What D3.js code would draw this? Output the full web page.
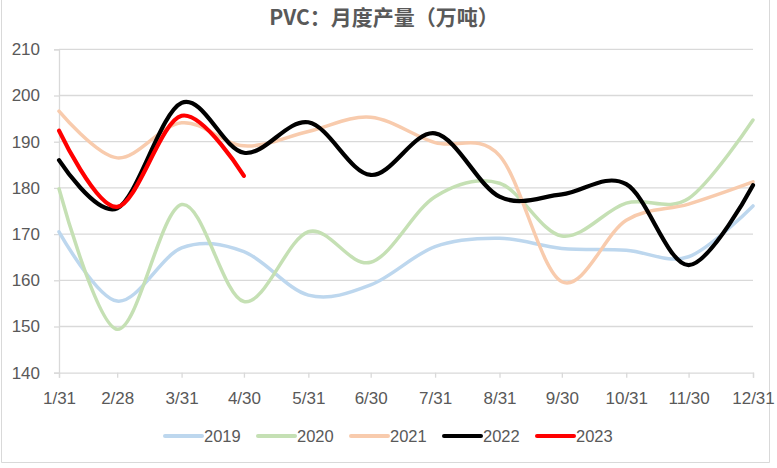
<!DOCTYPE html>
<html><head><meta charset="utf-8">
<script src="https://cdn.jsdelivr.net/npm/d3@7/dist/d3.min.js"></script>
<style>
html,body{margin:0;padding:0;background:#fff;}
svg{display:block;}
</style></head>
<body>
<svg id="chart" width="777" height="468"></svg>
<script>
const tickLabels = ["1/31","2/28","3/31","4/30","5/31","6/30","7/31","8/31","9/30","10/31","11/30","12/31"];
const dates = [[0,31],[1,28],[2,31],[3,30],[4,31],[5,30],[6,31],[7,31],[8,30],[9,31],[10,30],[11,31]];
const years = ["2019","2020","2021","2022","2023"];
const s2019 = [170.5,155.5,167.0,166.2,156.8,159.0,167.3,169.1,166.9,166.5,165.1,176.1];
const s2020 = [179.8,149.4,176.4,155.4,170.5,163.9,178.1,181.0,169.6,176.7,177.7,194.7];
const s2021 = [196.6,186.5,194.1,189.1,192.2,195.3,189.8,187.0,159.7,173.0,176.5,181.3];
const s2022 = [186.0,175.6,198.4,187.6,194.2,182.8,191.8,178.1,178.6,180.8,163.3,180.6];
const s2023 = [192.4,175.9,195.6,182.6];
const yTicks = [140,150,160,170,180,190,200,210];
const colors = ["#BDD7EE","#C5E0B4","#F8CBAD","#000000","#FF0000"];
const widths = [3.5,3.5,3.5,4.2,4.2];

(function(){
const series = [s2019,s2020,s2021,s2022,s2023];
const dateObjs = dates.map(d => new Date(2021, d[0], d[1]));

const svg = d3.select("#chart");
const pL = 59, pR = 753, pT = 49.3, pB = 372.7;
const x = d3.scaleTime().domain([dateObjs[0], dateObjs[11]]).range([pL, pR]);
const y = d3.scaleLinear().domain([140,210]).range([pB, pT]);
const textColor = "#595959";
const font = "'Liberation Sans', Arial, sans-serif";

// outer border
svg.append("path").attr("d", `M1.5,0 V462.5 H769.5 V0`).attr("fill","none").attr("stroke","#d9d9d9").attr("stroke-width",1);

// title
svg.append("text").attr("x", 384).attr("y", 25).attr("text-anchor","middle")
  .attr("font-family","'Noto Sans CJK SC', sans-serif").attr("font-weight","bold")
  .attr("font-size",21).attr("fill", textColor).text("PVC：月度产量（万吨）");

// gridlines
svg.append("g").selectAll("line").data(yTicks.filter(v => v > 140)).join("line")
  .attr("x1", pL).attr("x2", pR).attr("y1", d => y(d)).attr("y2", d => y(d))
  .attr("stroke","#d9d9d9").attr("stroke-width",1.3);

// y axis
const yAxis = svg.append("g").attr("transform", `translate(${pL},0)`)
  .call(d3.axisLeft(y).tickValues(yTicks).tickSize(5).tickPadding(14).tickFormat(d3.format("d")));
yAxis.select(".domain").attr("stroke","#d9d9d9").attr("stroke-width",1.3);
yAxis.selectAll(".tick line").attr("stroke","#d9d9d9").attr("stroke-width",1.3);
yAxis.selectAll(".tick text").attr("font-family", font).attr("font-size",17).attr("fill",textColor);

// x axis
const xAxis = svg.append("g").attr("transform", `translate(0,${pB})`)
  .call(d3.axisBottom(x).tickValues(dateObjs).tickSize(5).tickPadding(14).tickFormat((d,i) => tickLabels[i]));
xAxis.select(".domain").attr("stroke","#d9d9d9").attr("stroke-width",1.3);
xAxis.selectAll(".tick line").attr("stroke","#d9d9d9").attr("stroke-width",1.3);
xAxis.selectAll(".tick text").attr("font-family", font).attr("font-size",17).attr("fill",textColor);

// lines
const line = d3.line().x(d => x(d.date)).y(d => y(d.v)).curve(d3.curveCardinal.tension(0));
series.forEach((s, i) => {
  const pts = s.map((v, j) => ({date: dateObjs[j], v}));
  svg.append("path").datum(pts).attr("d", line).attr("fill","none")
    .attr("stroke", colors[i]).attr("stroke-width", widths[i]).attr("stroke-linecap","round");
});

// legend
const lg = svg.append("g").attr("transform","translate(165,436)");
years.forEach((yr, i) => {
  const g = lg.append("g").attr("transform", `translate(${i*93},0)`);
  g.append("line").attr("x1",0).attr("x2",37).attr("y1",0).attr("y2",0)
    .attr("stroke", colors[i]).attr("stroke-width",4).attr("stroke-linecap","round");
  g.append("text").attr("x",39).attr("y",6).attr("font-family",font).attr("font-size",16.5)
    .attr("fill",textColor).text(yr);
});
})();
</script>
</body></html>
